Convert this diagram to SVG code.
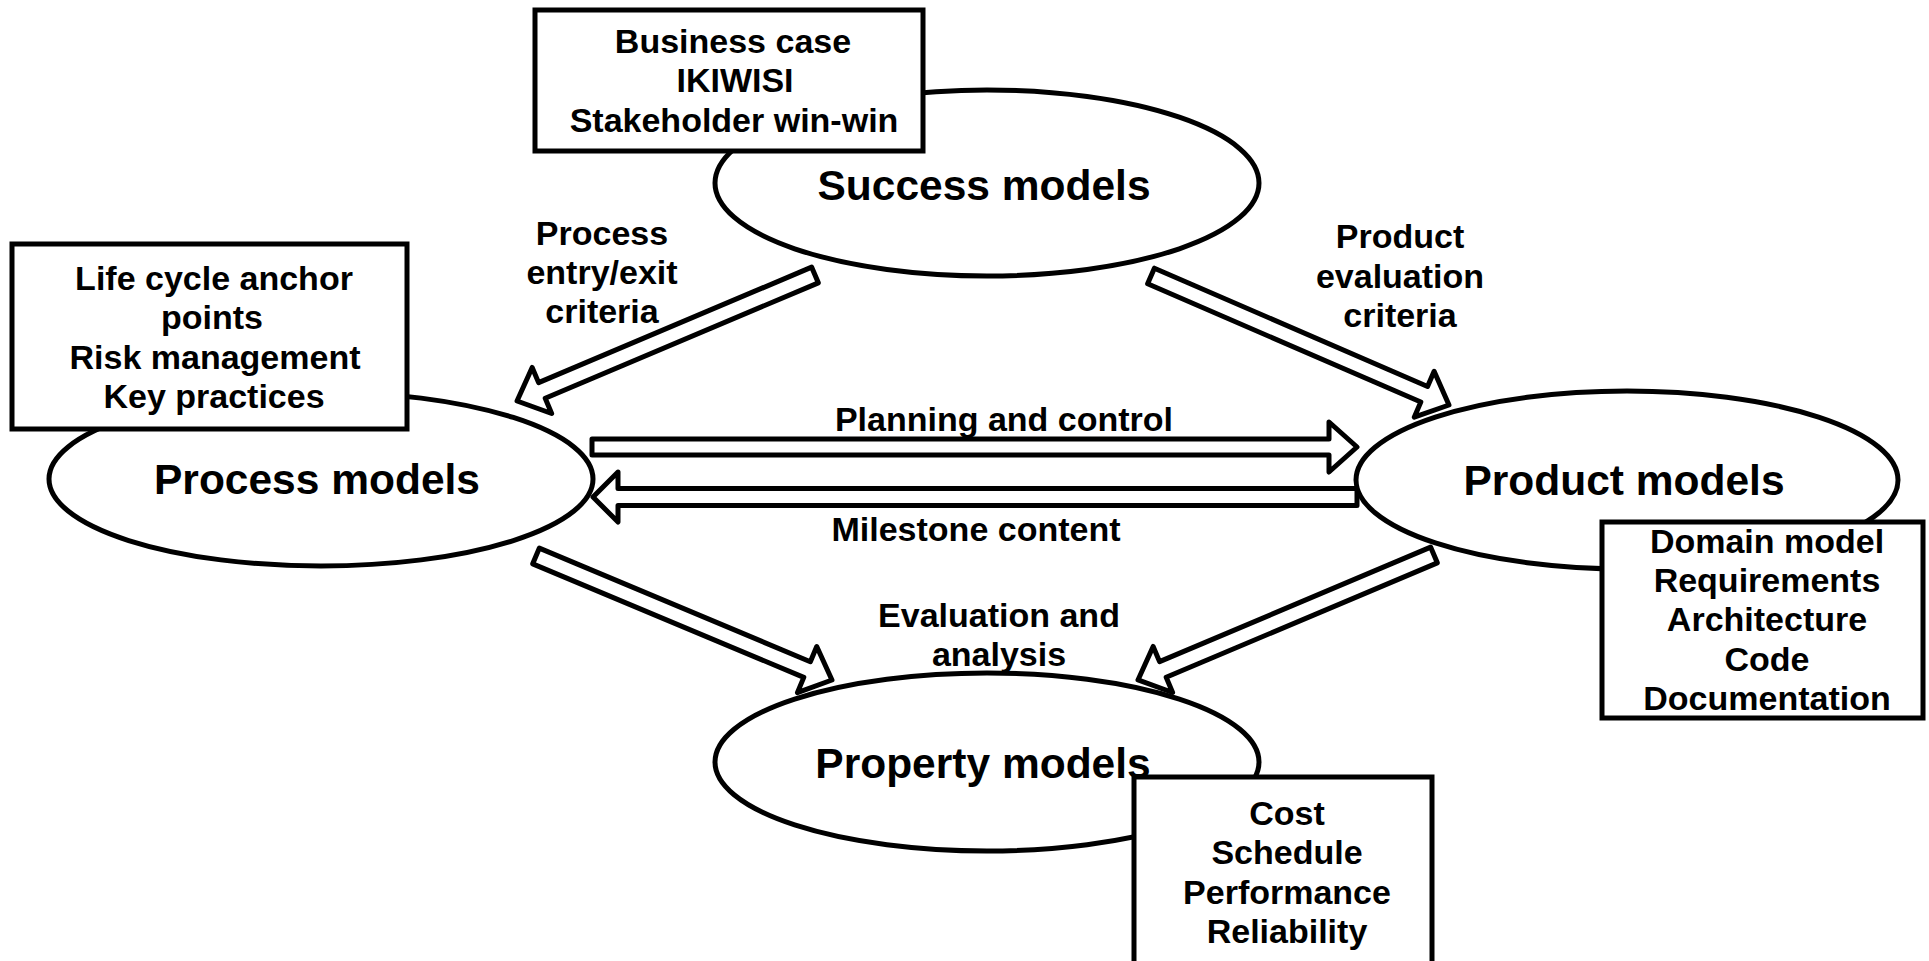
<svg xmlns="http://www.w3.org/2000/svg" width="1929" height="961" viewBox="0 0 1929 961">
<style>
.bg{fill:#fff}
.shape{fill:#fff;stroke:#000;stroke-width:5}
.arr{fill:#fff;stroke:#000;stroke-width:5;stroke-linejoin:round}
text{font-family:"Liberation Sans",Arial,Helvetica,sans-serif;font-weight:bold;fill:#000;text-anchor:middle}
.s{font-size:34px}
.t{font-size:42.5px}
</style>
<rect class="bg" x="0" y="0" width="1929" height="961"/>
<g id="connectors">
  <path class="arr" transform="translate(815,275) rotate(157.08)" d="M0,-8.5 L296.5,-8.5 L296.5,-25 L323.5,0 L296.5,25 L296.5,8.5 L0,8.5 Z"/>
  <path class="arr" transform="translate(1151,276) rotate(23.41)" d="M0,-8.5 L297.7,-8.5 L297.7,-25 L324.7,0 L297.7,25 L297.7,8.5 L0,8.5 Z"/>
  <path class="arr" transform="translate(536,556) rotate(22.73)" d="M0,-8.5 L293.9,-8.5 L293.9,-25 L320.9,0 L293.9,25 L293.9,8.5 L0,8.5 Z"/>
  <path class="arr" transform="translate(1434,555) rotate(157.11)" d="M0,-8.5 L294.3,-8.5 L294.3,-25 L321.3,0 L294.3,25 L294.3,8.5 L0,8.5 Z"/>
  <path class="arr" d="M592,439 L1329,439 L1329,422 L1357,447 L1329,472 L1329,455 L592,455 Z"/>
  <path class="arr" d="M1357,488.5 L618,488.5 L618,472 L593,497 L618,522 L618,505.5 L1357,505.5 Z"/>
  <text class="s" x="602" y="245">Process</text>
  <text class="s" x="602" y="284">entry/exit</text>
  <text class="s" x="602" y="323">criteria</text>
  <text class="s" x="1400" y="248">Product</text>
  <text class="s" x="1400" y="288">evaluation</text>
  <text class="s" x="1400" y="327">criteria</text>
  <text class="s" x="1004" y="431">Planning and control</text>
  <text class="s" x="976" y="541">Milestone content</text>
  <text class="s" x="999" y="627">Evaluation and</text>
  <text class="s" x="999" y="666">analysis</text>
</g>
<g id="node-success">
  <ellipse class="shape" cx="987" cy="183" rx="272" ry="93"/>
  <text class="t" x="984" y="200">Success models</text>
</g>
<g id="node-process">
  <ellipse class="shape" cx="321" cy="479" rx="272" ry="87"/>
  <text class="t" x="317" y="494">Process models</text>
</g>
<g id="node-product">
  <ellipse class="shape" cx="1627" cy="480" rx="271" ry="89"/>
  <text class="t" x="1624" y="495">Product models</text>
</g>
<g id="node-property">
  <ellipse class="shape" cx="987" cy="762" rx="272" ry="89"/>
  <text class="t" x="983" y="778">Property models</text>
</g>
<g id="box-success">
  <rect class="shape" x="535" y="10" width="388" height="141"/>
  <text class="s" x="733" y="53">Business case</text>
  <text class="s" x="735" y="92">IKIWISI</text>
  <text class="s" x="734" y="132">Stakeholder win-win</text>
</g>
<g id="box-process">
  <rect class="shape" x="12" y="244" width="395" height="185"/>
  <text class="s" x="214" y="290">Life cycle anchor</text>
  <text class="s" x="212" y="329">points</text>
  <text class="s" x="215" y="369">Risk management</text>
  <text class="s" x="214" y="408">Key practices</text>
</g>
<g id="box-product">
  <rect class="shape" x="1602" y="522" width="321" height="196"/>
  <text class="s" x="1767" y="553">Domain model</text>
  <text class="s" x="1767" y="592">Requirements</text>
  <text class="s" x="1767" y="631">Architecture</text>
  <text class="s" x="1767" y="671">Code</text>
  <text class="s" x="1767" y="710">Documentation</text>
</g>
<g id="box-property">
  <rect class="shape" x="1134" y="777" width="298" height="200"/>
  <text class="s" x="1287" y="825">Cost</text>
  <text class="s" x="1287" y="864">Schedule</text>
  <text class="s" x="1287" y="904">Performance</text>
  <text class="s" x="1287" y="943">Reliability</text>
</g>
</svg>
